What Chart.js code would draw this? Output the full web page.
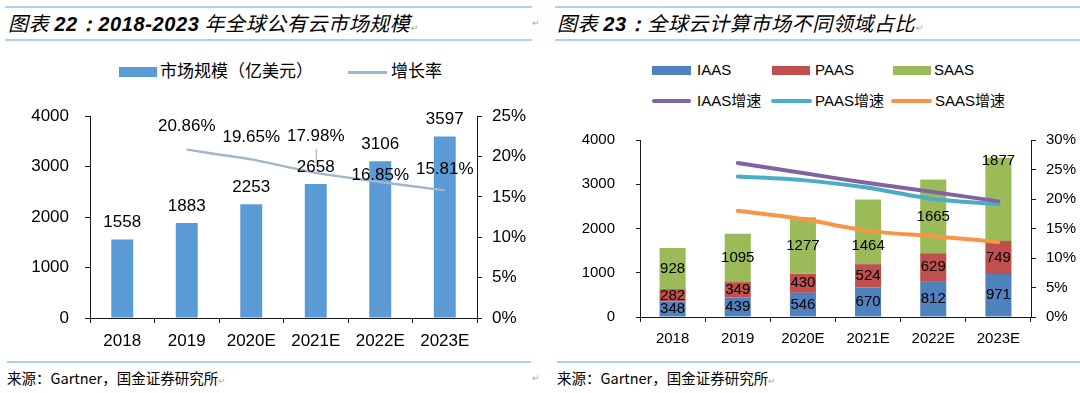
<!DOCTYPE html>
<html>
<head>
<meta charset="utf-8">
<script src="https://cdn.jsdelivr.net/npm/chart.js@4.4.1/dist/chart.umd.min.js"></script>
<style>
  html, body { margin:0; padding:0; background:#fff; }
  body { width:1080px; height:393px; position:relative; overflow:hidden;
         font-family:"Liberation Sans", Arial, "Noto Sans CJK SC", sans-serif; color:#000; }
  .abs { position:absolute; white-space:nowrap; }
  .rule { position:absolute; height:2px; background:#a9d3f0; }
  .title { font-family:"Noto Sans CJK SC", sans-serif; font-size:20px; font-style:italic; letter-spacing:0.6px; line-height:30px; top:8px; }
  .title b { font-family:"Liberation Sans", Arial, sans-serif; font-weight:bold; }
  .mark { color:#aaa; font-size:9px; }
  .src { font-family:"Noto Sans CJK SC", sans-serif; font-size:14.5px; line-height:20px; top:368px; }
  .lg1 { font-family:"Liberation Sans", "Noto Sans CJK SC", sans-serif; font-size:17px; line-height:24px; }
  .lg2 { font-family:"Liberation Sans", "Noto Sans CJK SC", sans-serif; font-size:15px; line-height:20px; }
</style>
</head>
<body>
<!-- Left panel frame -->
<div class="rule" style="left:5px; width:527px; top:6px;"></div>
<div class="abs title" style="left:8px;">图表 <b>22：2018-2023</b> 年全球公有云市场规模<span class="mark">↵</span></div>
<div class="rule" style="left:5px; width:527px; top:39px;"></div>
<div class="abs mark" style="left:532px; top:18px;">↵</div>

<!-- Right panel frame -->
<div class="rule" style="left:555px; width:525px; top:6px;"></div>
<div class="abs title" style="left:557px;">图表 <b>23：</b>全球云计算市场不同领域占比<span class="mark">↵</span></div>
<div class="rule" style="left:555px; width:525px; top:39px;"></div>

<!-- Left legend -->
<div class="abs" style="left:119px; top:67px; width:38px; height:10px; background:#5b9bd5;"></div>
<div class="abs lg1" style="left:160px; top:60px;">市场规模（亿美元）</div>
<div class="abs" style="left:348px; top:71px; width:39px; height:3px; background:#a3b5c9;"></div>
<div class="abs lg1" style="left:391px; top:60px;">增长率</div>

<!-- Right legend -->
<div class="abs" style="left:652px; top:66px; width:39px; height:9px; background:#4f81bd;"></div>
<div class="abs lg2" style="left:697px; top:60px;">IAAS</div>
<div class="abs" style="left:772px; top:66px; width:38px; height:9px; background:#c0504d;"></div>
<div class="abs lg2" style="left:815px; top:60px;">PAAS</div>
<div class="abs" style="left:893px; top:66px; width:38px; height:9px; background:#9bbb59;"></div>
<div class="abs lg2" style="left:934px; top:60px;">SAAS</div>

<div class="abs" style="left:652px; top:99px; width:39px; height:4px; border-radius:2px; background:#8064a2;"></div>
<div class="abs lg2" style="left:697px; top:91px;">IAAS增速</div>
<div class="abs" style="left:771px; top:99px; width:41px; height:4px; border-radius:2px; background:#4bacc6;"></div>
<div class="abs lg2" style="left:815px; top:91px;">PAAS增速</div>
<div class="abs" style="left:891px; top:99px; width:41px; height:4px; border-radius:2px; background:#f79646;"></div>
<div class="abs lg2" style="left:935px; top:91px;">SAAS增速</div>

<canvas id="c1" width="540" height="270" style="position:absolute; left:0; top:90px;"></canvas>
<canvas id="c2" width="535" height="250" style="position:absolute; left:545px; top:110px;"></canvas>

<!-- Footers -->
<div class="rule" style="left:7px; width:524px; top:361px;"></div>
<div class="rule" style="left:557px; width:523px; top:361px;"></div>
<div class="abs src" style="left:7px;">来源：Gartner，国金证券研究所<span class="mark">↵</span></div>
<div class="abs mark" style="left:532px; top:373px;">↵</div>
<div class="abs src" style="left:557px;">来源：Gartner，国金证券研究所<span class="mark">↵</span></div>

<script>
// ---------- Data ----------
const years = ['2018', '2019', '2020E', '2021E', '2022E', '2023E'];

// Chart 22: global public cloud market size (100M USD) and growth (%)
const marketSize   = [1558, 1883, 2253, 2658, 3106, 3597];
const marketGrowth = [null, 20.86, 19.65, 17.98, 16.85, 15.81];

// Chart 23: segments (100M USD) and their growth (%)
const iaasValues = [348, 439, 546, 670, 812, 971];
const paasValues = [282, 349, 430, 524, 629, 749];
const saasValues = [928, 1095, 1277, 1464, 1665, 1877];
const iaasGrowth = [null, 26.1, 24.4, 22.7, 21.2, 19.6];
const paasGrowth = [null, 23.8, 23.2, 21.9, 20.0, 19.1];
const saasGrowth = [null, 18.0, 16.6, 14.6, 13.7, 12.7];

const leftTicks  = [0, 1000, 2000, 3000, 4000];
const pct25Ticks = [0, 5, 10, 15, 20, 25];
const pct30Ticks = [0, 5, 10, 15, 20, 25, 30];

// ---------- Common ----------
Chart.defaults.font.family = '"Liberation Sans", Arial, "Noto Sans CJK SC", sans-serif';
Chart.defaults.color = '#000';
const AXIS = '#1a1a1a';

function axisGrid(len) {
  return { display: true, drawOnChartArea: false, drawTicks: true, tickLength: len, color: AXIS, lineWidth: 1 };
}

// ---------- Chart 22 ----------
const growthLabelLift = [0, 23, 22.5, 37, 7, 21.5];
const labels22 = {
  id: 'labels22',
  afterDatasetsDraw(chart) {
    const ctx = chart.ctx;
    ctx.save();
    ctx.font = '17px "Liberation Sans", Arial, sans-serif';
    ctx.fillStyle = '#000';
    ctx.textAlign = 'center';
    ctx.textBaseline = 'middle';
    chart.getDatasetMeta(0).data.forEach((bar, i) => {
      ctx.fillText(String(marketSize[i]), bar.x, bar.y - 17);
    });
    chart.getDatasetMeta(1).data.forEach((pt, i) => {
      if (marketGrowth[i] == null) return;
      const y = pt.y - growthLabelLift[i];
      ctx.fillText(marketGrowth[i].toFixed(2) + '%', pt.x, y);
      if (growthLabelLift[i] > 30) {
        ctx.strokeStyle = '#a6a6a6';
        ctx.lineWidth = 1;
        ctx.beginPath();
        ctx.moveTo(pt.x + 0.5, y + 13);
        ctx.lineTo(pt.x + 0.5, pt.y - 7);
        ctx.stroke();
      }
    });
    ctx.restore();
  }
};

new Chart(document.getElementById('c1'), {
  type: 'bar',
  data: {
    labels: years,
    datasets: [
      { type: 'bar', label: '市场规模（亿美元）', data: marketSize, backgroundColor: '#5b9bd5',
        yAxisID: 'y', barPercentage: 0.68, categoryPercentage: 0.5, order: 2 },
      { type: 'line', label: '增长率', data: marketGrowth, borderColor: '#a3b5c9', borderWidth: 2.5,
        pointRadius: 0, tension: 0.2, yAxisID: 'y1', order: 1 }
    ]
  },
  options: {
    responsive: false, animation: false, devicePixelRatio: 1,
    layout: { padding: { top: 17, left: 0, right: 0, bottom: 0 } },
    plugins: { legend: { display: false }, tooltip: { enabled: false } },
    scales: {
      x: {
        grid: { ...axisGrid(5), offset: true },
        border: { display: true, color: AXIS, width: 1 },
        ticks: { font: { size: 17 }, padding: 8, maxRotation: 0, color: '#000' },
        afterFit: s => { s.height = 42; }
      },
      y: {
        position: 'left', min: 0, max: 4000,
        grid: axisGrid(5),
        border: { display: true, color: AXIS, width: 1 },
        afterBuildTicks: s => { s.ticks = leftTicks.map(v => ({ value: v })); },
        ticks: { font: { size: 17 }, padding: 16, color: '#000', callback: v => String(v) },
        afterFit: s => { s.width = 90; }
      },
      y1: {
        position: 'right', min: 0, max: 25,
        grid: axisGrid(5),
        border: { display: true, color: AXIS, width: 1 },
        afterBuildTicks: s => { s.ticks = pct25Ticks.map(v => ({ value: v })); },
        ticks: { font: { size: 17 }, padding: 10, color: '#000', callback: v => v + '%' },
        afterFit: s => { s.width = 63; }
      }
    }
  },
  plugins: [labels22]
});

// ---------- Chart 23 ----------
const segmentSets = [iaasValues, paasValues, saasValues];
const segmentLabelShift = [
  [0, 0, 0, 0, 0, 0],
  [0, 0, 0, 0, 0, 0],
  [0, 0, 0, 14, 0, -39]
];
const labels23 = {
  id: 'labels23',
  afterDatasetsDraw(chart) {
    const ctx = chart.ctx;
    ctx.save();
    ctx.font = '15px "Liberation Sans", Arial, sans-serif';
    ctx.fillStyle = '#000';
    ctx.textAlign = 'center';
    ctx.textBaseline = 'middle';
    for (let d = 0; d < 3; d++) {
      chart.getDatasetMeta(d).data.forEach((bar, i) => {
        const cy = (bar.y + bar.base) / 2 + segmentLabelShift[d][i];
        ctx.fillText(String(segmentSets[d][i]), bar.x, cy);
      });
    }
    ctx.restore();
  }
};

const lineCommon = { type: 'line', borderWidth: 4, pointRadius: 0, tension: 0.3, yAxisID: 'y1', order: 1,
                     borderCapStyle: 'round', borderJoinStyle: 'round' };

new Chart(document.getElementById('c2'), {
  type: 'bar',
  data: {
    labels: years,
    datasets: [
      { type: 'bar', label: 'IAAS', data: iaasValues, backgroundColor: '#4f81bd', yAxisID: 'y',
        barPercentage: 0.8, categoryPercentage: 0.5, order: 2, stack: 's' },
      { type: 'bar', label: 'PAAS', data: paasValues, backgroundColor: '#c0504d', yAxisID: 'y',
        barPercentage: 0.8, categoryPercentage: 0.5, order: 2, stack: 's' },
      { type: 'bar', label: 'SAAS', data: saasValues, backgroundColor: '#9bbb59', yAxisID: 'y',
        barPercentage: 0.8, categoryPercentage: 0.5, order: 2, stack: 's' },
      { ...lineCommon, label: 'IAAS增速', data: iaasGrowth, borderColor: '#8064a2' },
      { ...lineCommon, label: 'PAAS增速', data: paasGrowth, borderColor: '#4bacc6' },
      { ...lineCommon, label: 'SAAS增速', data: saasGrowth, borderColor: '#f79646' }
    ]
  },
  options: {
    responsive: false, animation: false, devicePixelRatio: 1,
    layout: { padding: { top: 22, left: 0, right: 0, bottom: 0 } },
    plugins: { legend: { display: false }, tooltip: { enabled: false } },
    scales: {
      x: {
        stacked: true,
        grid: { ...axisGrid(5), offset: true },
        border: { display: true, color: AXIS, width: 1 },
        ticks: { font: { size: 15 }, padding: 8, maxRotation: 0, color: '#000' },
        afterFit: s => { s.height = 43; }
      },
      y: {
        stacked: true, position: 'left', min: 0, max: 4000,
        grid: axisGrid(4),
        border: { display: true, color: AXIS, width: 1 },
        afterBuildTicks: s => { s.ticks = leftTicks.map(v => ({ value: v })); },
        ticks: { font: { size: 15 }, padding: 21, color: '#000', callback: v => String(v) },
        afterFit: s => { s.width = 95; }
      },
      y1: {
        stacked: false, position: 'right', min: 0, max: 30,
        grid: axisGrid(5),
        border: { display: true, color: AXIS, width: 1 },
        afterBuildTicks: s => { s.ticks = pct30Ticks.map(v => ({ value: v })); },
        ticks: { font: { size: 15 }, padding: 10, color: '#000', callback: v => v + '%' },
        afterFit: s => { s.width = 49; }
      }
    }
  },
  plugins: [labels23]
});
</script>
</body>
</html>
